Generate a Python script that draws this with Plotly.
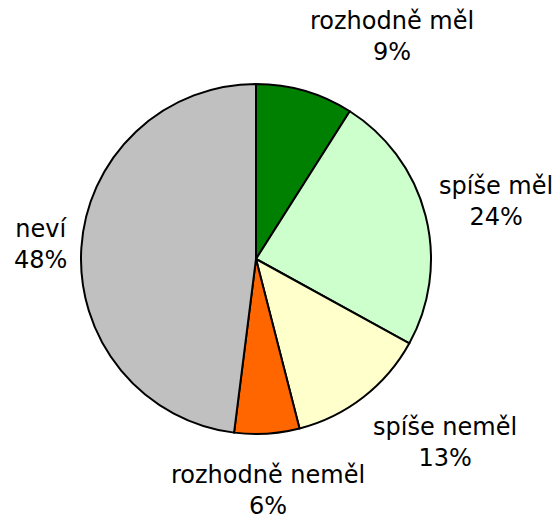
import math
import plotly.graph_objects as go

categories = ["rozhodně měl", "spíše měl", "spíše neměl", "rozhodně neměl", "neví"]
values = [9, 24, 13, 6, 48]
colors = ["#008000", "#CCFFCC", "#FFFFCC", "#FF6600", "#C0C0C0"]

W, H = 552, 517
cx, cy, r = 256, 259, 175   # pie centre / radius in figure pixels
label_r = 187               # radius at which labels start
label_dy = 45               # extra vertical push of labels away from the pie
FS = 24
FONT = dict(family="DejaVu Sans", size=FS, color="black")

fig = go.Figure(go.Pie(
    labels=categories,
    values=values,
    sort=False,
    direction="clockwise",
    rotation=0,
    marker=dict(colors=colors, line=dict(color="black", width=2)),
    textinfo="none",
    hoverinfo="label+percent",
    domain=dict(x=[(cx - r) / W, (cx + r) / W], y=[(H - cy - r) / H, (H - cy + r) / H]),
    automargin=False,
    showlegend=False,
))

total = sum(values)
cum = 0
annotations = []
for lab, v in zip(categories, values):
    mid = math.radians(360 * (cum + v / 2) / total)
    cum += v
    s, c = math.sin(mid), math.cos(mid)
    px = cx + label_r * s
    py = cy - (label_r + label_dy) * c
    xanchor = "left" if s > 0.2 else ("right" if s < -0.2 else "center")
    annotations.append(dict(
        x=px / W, y=1 - py / H, xref="paper", yref="paper",
        text=f"{lab}<br>{round(100 * v / total)}%",
        showarrow=False, xanchor=xanchor, yanchor="middle",
        align="center", font=FONT,
    ))

fig.update_layout(
    width=W, height=H,
    margin=dict(l=0, r=0, t=0, b=0),
    paper_bgcolor="white",
    plot_bgcolor="white",
    annotations=annotations,
)
fig.write_html(
    "out.html",
    config={"displayModeBar": False},
    post_script="document.body.style.margin='0';document.body.style.overflow='hidden';",
)
